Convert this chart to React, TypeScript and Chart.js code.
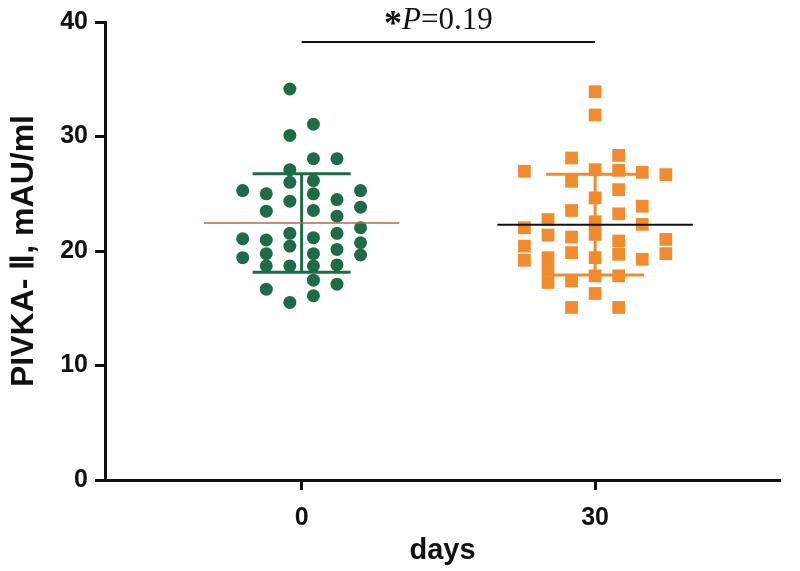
import { useEffect, useRef } from 'react';
import { Chart, registerables } from 'chart.js';

Chart.register(...registerables);

const groupLabels = ['0', '30'];
const axisTitleX = 'days';
const axisTitleY = 'PIVKA- Ⅱ, mAU/ml';
const yTicks = [0, 10, 20, 30, 40];

// Day 0 values and their beeswarm lane (column)
const day0Values = [
  34.15, 31.07, 30.09, 28.06, 28.06, 27.1, 26.15, 26.0, 25.28, 24.99,
  24.99, 25.28, 24.49, 24.35, 23.48, 23.54, 23.83, 23.04, 22.03, 21.54,
  21.54, 21.07, 20.96, 21.16, 20.43, 20.72, 20.14, 19.77, 19.77, 19.42,
  19.65, 18.7, 18.7, 18.7, 18.78, 17.45, 16.67, 17.1, 16.09, 15.51,
];
const day0Lanes = [
  -0.5, 0.5, -0.5, 0.5, 1.5, -0.5, 0.5, -0.5, -2.5, -1.5,
  0.5, 2.5, 1.5, -0.5, -1.5, 0.5, 2.5, 1.5, 2.5, -0.5,
  1.5, -2.5, -1.5, 0.5, -0.5, 2.5, 1.5, 0.5, -1.5, -2.5,
  2.5, -1.5, -0.5, 0.5, 1.5, 0.5, -1.5, 1.5, 0.5, -0.5,
];

// Day 30 values and lanes
const day30Values = [
  33.91, 31.88, 28.12, 28.35, 26.96, 27.1, 27.04, 26.87, 26.67, 26.09,
  25.36, 24.64, 23.91, 23.54, 23.25, 22.75, 22.55, 22.32, 22.03, 21.39,
  21.45, 21.22, 20.87, 21.01, 20.43, 19.71, 19.86, 19.77, 19.19, 19.42,
  19.42, 19.28, 18.35, 17.25, 17.39, 17.83, 17.83, 16.29, 15.07, 15.07,
];
const day30Lanes = [
  0, 0, -1, 1, -3, 0, 1, 2, 3, -1,
  1, 0, 2, -1, 1, -2, 0, 2, -3, -2,
  0, -1, 1, 3, -3, 1, -1, 3, -3, -2,
  0, 2, -2, -2, -1, 0, 1, 0, -1, 1,
];

// Summary lines (mean ± SD)
const groupMeans = [22.45, 22.3];
const groupSdUpper = [26.75, 26.7];
const groupSdLower = [18.15, 17.9];
const pValueLabel = '0.19';

const LANE_STEP = 0.0803;
const MEAN_HALF = 0.333;
const WHISKER_HALF = 0.167;
const GREEN = '#1d6b47';
const ORANGE = '#f28a2e';

const summaryPlugin = {
  id: 'summary',
  afterDatasetsDraw(chart: any) {
    const { ctx, scales } = chart;
    const xs = scales.x;
    const ys = scales.y;
    const meanColors = ['#b5675a', '#111111'];
    const barColors = [GREEN, ORANGE];
    const meanWidths = [1.5, 2];
    ctx.save();
    groupMeans.forEach((m, i) => {
      const cx = xs.getPixelForValue(i);
      ctx.strokeStyle = barColors[i];
      ctx.lineWidth = 3;
      ctx.beginPath();
      ctx.moveTo(cx, ys.getPixelForValue(groupSdUpper[i]));
      ctx.lineTo(cx, ys.getPixelForValue(groupSdLower[i]));
      ctx.moveTo(xs.getPixelForValue(i - WHISKER_HALF), ys.getPixelForValue(groupSdUpper[i]));
      ctx.lineTo(xs.getPixelForValue(i + WHISKER_HALF), ys.getPixelForValue(groupSdUpper[i]));
      ctx.moveTo(xs.getPixelForValue(i - WHISKER_HALF), ys.getPixelForValue(groupSdLower[i]));
      ctx.lineTo(xs.getPixelForValue(i + WHISKER_HALF), ys.getPixelForValue(groupSdLower[i]));
      ctx.stroke();
      ctx.strokeStyle = meanColors[i];
      ctx.lineWidth = meanWidths[i];
      ctx.beginPath();
      ctx.moveTo(xs.getPixelForValue(i - MEAN_HALF), ys.getPixelForValue(m));
      ctx.lineTo(xs.getPixelForValue(i + MEAN_HALF), ys.getPixelForValue(m));
      ctx.stroke();
    });
    // significance bracket
    const by = ys.getPixelForValue(38.25);
    const x0 = xs.getPixelForValue(0);
    const x1 = xs.getPixelForValue(1);
    ctx.strokeStyle = '#111';
    ctx.lineWidth = 2;
    ctx.beginPath();
    ctx.moveTo(x0, by);
    ctx.lineTo(x1, by);
    ctx.stroke();
    const parts = [
      { t: '*', f: 'bold 36px "Liberation Serif", serif', dy: 6 },
      { t: 'P', f: 'italic 31px "Liberation Serif", serif', dy: 0 },
      { t: '=' + pValueLabel, f: '31px "Liberation Serif", serif', dy: 0 },
    ];
    let total = 0;
    parts.forEach((p) => {
      ctx.font = p.f;
      total += ctx.measureText(p.t).width;
    });
    let tx = (x0 + x1) / 2 - total / 2 - 10;
    const tyBase = by - 13;
    ctx.fillStyle = '#111';
    ctx.textBaseline = 'alphabetic';
    ctx.textAlign = 'left';
    parts.forEach((p) => {
      ctx.font = p.f;
      ctx.fillText(p.t, tx, tyBase + p.dy);
      tx += ctx.measureText(p.t).width;
    });
    ctx.restore();
  },
};

export default function App() {
  const ref = useRef<HTMLCanvasElement>(null);
  useEffect(() => {
    if (!ref.current) return;
    const chart = new Chart(ref.current, {
      type: 'scatter',
      data: {
        datasets: [
          {
            label: groupLabels[0],
            data: day0Values.map((v, k) => ({ x: 0 + day0Lanes[k] * LANE_STEP, y: v })),
            pointStyle: 'circle',
            pointRadius: 6.5,
            backgroundColor: GREEN,
            borderWidth: 0,
          },
          {
            label: groupLabels[1],
            data: day30Values.map((v, k) => ({ x: 1 + day30Lanes[k] * LANE_STEP, y: v })),
            pointStyle: 'rect',
            pointRadius: 9,
            backgroundColor: ORANGE,
            borderWidth: 0,
          },
        ],
      },
      options: {
        animation: false,
        responsive: true,
        maintainAspectRatio: false,
        layout: { padding: { left: 0, top: 20, right: 20, bottom: 0 } },
        plugins: { legend: { display: false }, tooltip: { enabled: false } },
        scales: {
          x: {
            type: 'linear',
            min: -0.67,
            max: 1.63,
            afterBuildTicks: (s: any) => {
              s.ticks = groupLabels.map((_, i) => ({ value: i }));
            },
            afterFit: (s: any) => {
              s.height = 91;
            },
            grid: { drawOnChartArea: false, drawTicks: true, tickLength: 10, tickWidth: 3, color: '#111' },
            border: { display: true, width: 3, color: '#111' },
            ticks: {
              color: '#111',
              padding: 13,
              font: { family: '"Liberation Sans", Arial, sans-serif', size: 25, weight: 'bold' },
              callback: (v: any) => groupLabels[Math.round(v)] ?? '',
            },
            title: {
              display: true,
              text: axisTitleX,
              color: '#111',
              font: { family: '"Liberation Sans", Arial, sans-serif', size: 29, weight: 'bold' },
              padding: { top: 0, bottom: 3 },
            },
          },
          y: {
            min: 0,
            max: 40,
            afterBuildTicks: (s: any) => {
              s.ticks = yTicks.map((v) => ({ value: v }));
            },
            afterFit: (s: any) => {
              s.width = 105;
            },
            grid: { drawOnChartArea: false, drawTicks: true, tickLength: 10, tickWidth: 3, color: '#111' },
            border: { display: true, width: 3, color: '#111' },
            ticks: {
              color: '#111',
              padding: 7,
              font: { family: '"Liberation Sans", Arial, sans-serif', size: 25, weight: 'bold' },
            },
            title: {
              display: true,
              text: axisTitleY,
              color: '#111',
              font: { family: '"Liberation Sans", Arial, sans-serif', size: 32, weight: 'bold' },
              padding: { top: 5, bottom: 0 },
            },
          },
        },
      },
      plugins: [summaryPlugin],
    });
    return () => chart.destroy();
  }, []);
  return (
    <div style={{ position: 'absolute', left: 0, top: 0, width: 800, height: 571 }}>
      <canvas ref={ref} />
    </div>
  );
}
